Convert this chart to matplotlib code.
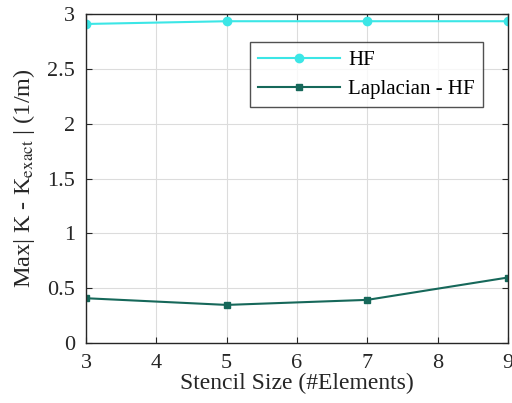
import matplotlib.pyplot as plt

stencil = [3, 5, 7, 9]
hf = [2.91, 2.935, 2.935, 2.935]
lap_hf = [0.408, 0.347, 0.393, 0.597]

plt.rcParams['font.family'] = ['Liberation Serif', 'DejaVu Serif']
plt.rcParams['mathtext.fontset'] = 'stix'

fig = plt.figure(figsize=(5.12, 4.03), dpi=100)
ax = fig.add_axes([0.168, 0.149, 0.824, 0.816])

ax.plot(stencil, hf, color='#3ce6e6', marker='o', markersize=6, linewidth=1.5, label='HF')
ax.plot(stencil, lap_hf, color='#16685a', marker='s', markersize=4.5, linewidth=1.5, label='Laplacian - HF')

ax.set_xlim(3, 9)
ax.set_ylim(0, 3)
ax.set_xticks(range(3, 10))
ax.set_yticks([0, 0.5, 1, 1.5, 2, 2.5, 3])
ax.set_yticklabels(['0', '0.5', '1', '1.5', '2', '2.5', '3'])
ax.grid(True, color='#dcdcdc', linewidth=0.8)
ax.tick_params(direction='in', top=True, right=True, labelsize=16, colors='#262626', length=4)
ax.tick_params(axis='y', pad=8)
ax.tick_params(axis='x', pad=8)
for s in ax.spines.values():
    s.set_color('#262626')
    s.set_linewidth(1.0)

ax.set_xlabel('Stencil Size (#Elements)', fontsize=17, color='#262626', labelpad=0)
ax.set_ylabel(r'Max| K - K$_{\rm exact}$ | (1/m)', fontsize=17.5, color='#262626', labelpad=7)

leg = ax.legend(loc='upper right', bbox_to_anchor=(0.941, 0.915), fontsize=15, frameon=True,
                fancybox=False, edgecolor='#262626', handlelength=3.9, borderpad=0.4,
                labelspacing=0.45, handletextpad=0.4, borderaxespad=0)
leg.get_frame().set_linewidth(1.0)

fig.savefig('out.png', dpi=100)
